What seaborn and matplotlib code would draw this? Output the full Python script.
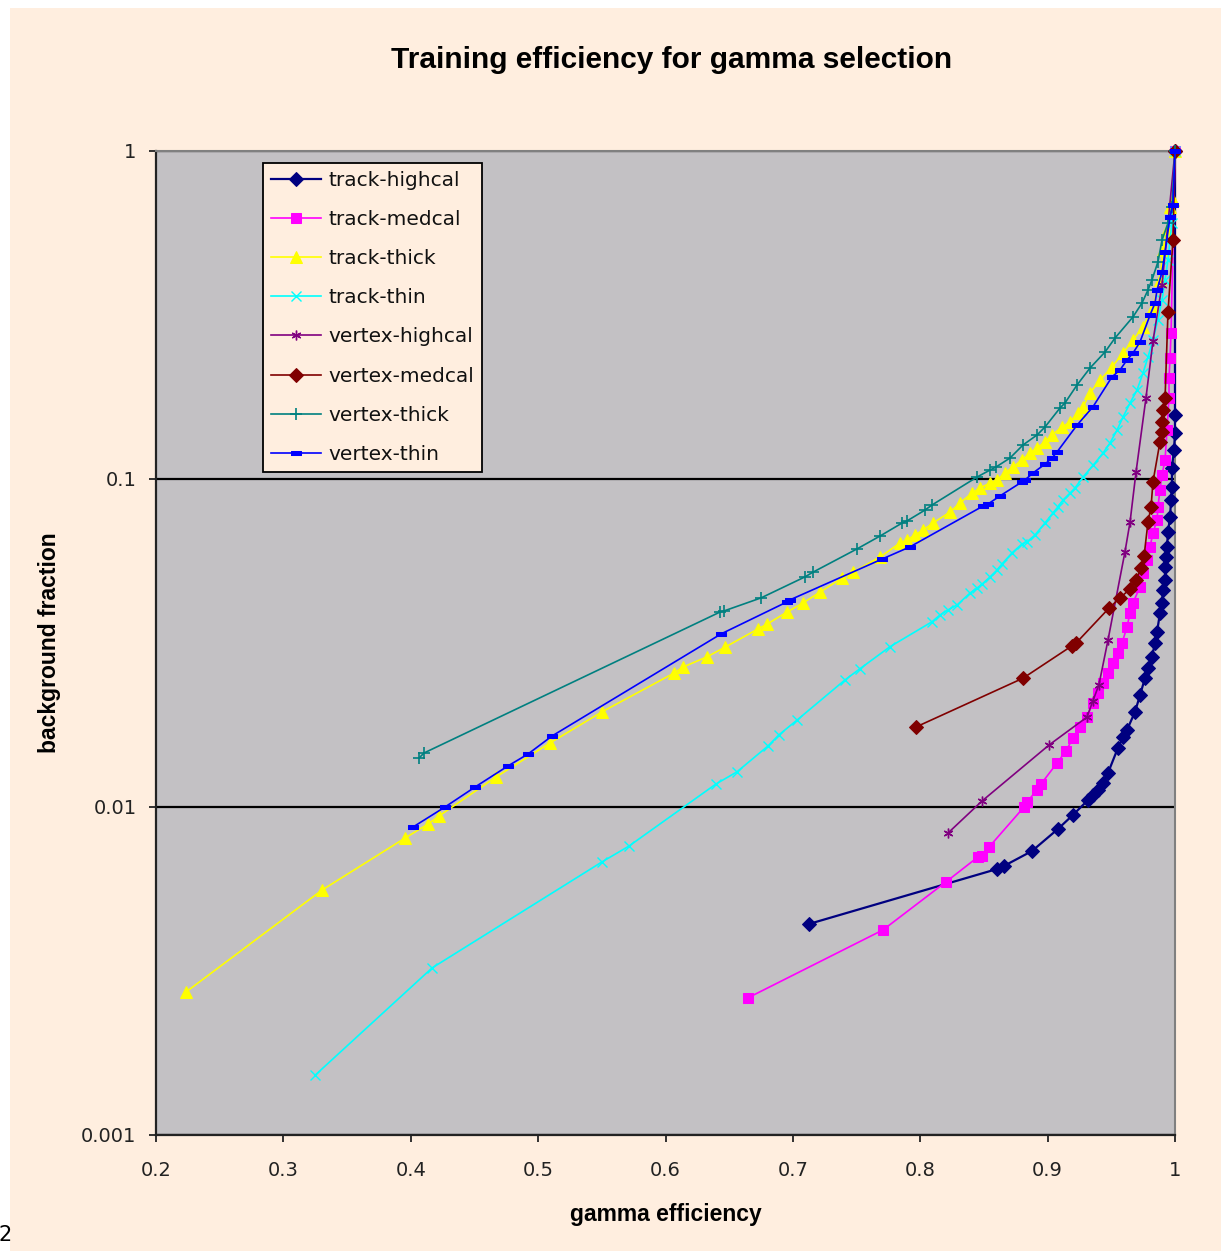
import matplotlib
matplotlib.use("Agg")
import matplotlib.pyplot as plt
from matplotlib.patches import Rectangle
from matplotlib.ticker import NullLocator, FixedLocator, FixedFormatter
import seaborn as sns

plt.rcParams['font.family'] = ['DejaVu Sans']

# ---------------- data ----------------
series_names = ["track-highcal", "track-medcal", "track-thick", "track-thin",
                "vertex-highcal", "vertex-medcal", "vertex-thick", "vertex-thin"]

track_highcal_x = [0.7127, 0.8603, 0.8657, 0.8877, 0.9081, 0.9199, 0.9317, 0.9356, 0.9395, 0.9435,
                   0.9474, 0.9552, 0.9592, 0.9623, 0.9686, 0.9725, 0.9764, 0.9788, 0.9819, 0.9843,
                   0.9859, 0.9882, 0.9898, 0.9906, 0.9922, 0.9922, 0.9929, 0.9937, 0.9945, 0.9961,
                   0.9969, 0.9976, 0.9976, 0.9992, 1.0, 1.0, 1.0]
track_highcal_y = [0.00440, 0.00647, 0.00661, 0.00734, 0.00857, 0.00946, 0.0105, 0.0109, 0.01127, 0.01184,
                   0.0127, 0.01514, 0.01634, 0.01717, 0.0195, 0.0219, 0.0247, 0.0265, 0.0287, 0.0316,
                   0.0342, 0.0390, 0.0419, 0.0459, 0.0492, 0.0539, 0.0578, 0.0621, 0.0689, 0.0766,
                   0.0863, 0.0946, 0.108, 0.1226, 0.138, 0.157, 1.0]

track_medcal_x = [0.6648, 0.7708, 0.8202, 0.8453, 0.8485, 0.8540, 0.8815, 0.8838, 0.8917, 0.8948,
                  0.9074, 0.9144, 0.9199, 0.9254, 0.9309, 0.9356, 0.9395, 0.9435, 0.9474, 0.9513,
                  0.9552, 0.9584, 0.9623, 0.9647, 0.9670, 0.9725, 0.9749, 0.9780, 0.9804, 0.9827,
                  0.9859, 0.9866, 0.9882, 0.9898, 0.9922, 0.9937, 0.9953, 0.9953, 0.9961, 0.9969, 1.0]
track_medcal_y = [0.00262, 0.00422, 0.00591, 0.00704, 0.00709, 0.00755, 0.0100, 0.01036, 0.01127, 0.01175,
                  0.01362, 0.01482, 0.01623, 0.01754, 0.0188, 0.0208, 0.0223, 0.0239, 0.0256, 0.0275,
                  0.0295, 0.0316, 0.0354, 0.0390, 0.0419, 0.0469, 0.0517, 0.0566, 0.0621, 0.0685,
                  0.0750, 0.0822, 0.0925, 0.1028, 0.1143, 0.141, 0.1766, 0.203, 0.234, 0.279, 1.0]

track_thick_x = [0.2236, 0.3303, 0.3955, 0.4135, 0.4222, 0.4669, 0.5093, 0.5501, 0.6067, 0.6137,
                 0.6326, 0.6467, 0.6726, 0.6797, 0.6954, 0.7080, 0.7213, 0.7386, 0.7472, 0.7684,
                 0.7841, 0.7896, 0.7959, 0.8022, 0.8100, 0.8234, 0.8312, 0.8406, 0.8469, 0.8548,
                 0.8603, 0.8665, 0.8728, 0.8799, 0.8862, 0.8917, 0.8979, 0.9034, 0.9113, 0.9176,
                 0.9238, 0.9278, 0.9333, 0.9411, 0.9505, 0.9592, 0.9670, 0.9749, 0.9827, 0.9882,
                 0.9906, 0.9937, 0.9961, 0.9984, 1.0]
track_thick_y = [0.00273, 0.00558, 0.00804, 0.00887, 0.00939, 0.01234, 0.01567, 0.0195, 0.0256, 0.0267,
                 0.0287, 0.0307, 0.0349, 0.0361, 0.0393, 0.0419, 0.0452, 0.0499, 0.0520, 0.0578,
                 0.0638, 0.0652, 0.0675, 0.0699, 0.0734, 0.0793, 0.0845, 0.0906, 0.0939, 0.0972,
                 0.0993, 0.1043, 0.1088, 0.1143, 0.120, 0.1244, 0.1297, 0.1362, 0.144, 0.149,
                 0.159, 0.166, 0.183, 0.200, 0.2196, 0.242, 0.2653, 0.2906, 0.3345, 0.4044,
                 0.4992, 0.574, 0.675, 0.709, 1.0]

track_thin_x = [0.3248, 0.4167, 0.5501, 0.5713, 0.6396, 0.6561, 0.6805, 0.6891, 0.7032, 0.7409,
                0.7527, 0.7762, 0.8092, 0.8155, 0.8218, 0.8289, 0.8391, 0.8446, 0.8485, 0.8548,
                0.8603, 0.8642, 0.8720, 0.8799, 0.8838, 0.8901, 0.8979, 0.9042, 0.9081, 0.9121,
                0.9176, 0.9215, 0.9278, 0.9356, 0.9435, 0.9490, 0.9545, 0.9592, 0.9647, 0.9702,
                0.9749, 0.9788, 0.9827, 0.9866, 0.9898, 0.9922, 0.9945, 0.9961, 0.9976, 1.0]
track_thin_y = [0.00152, 0.00323, 0.00680, 0.00760, 0.01175, 0.0128, 0.01535, 0.0166, 0.0184, 0.0244,
                0.0264, 0.0308, 0.0367, 0.0385, 0.0399, 0.0413, 0.0449, 0.0465, 0.0478, 0.0503,
                0.0528, 0.0551, 0.0595, 0.0634, 0.0643, 0.0675, 0.0734, 0.0788, 0.0822, 0.0863,
                0.0906, 0.0939, 0.1014, 0.110, 0.120, 0.1288, 0.141, 0.1545, 0.1705, 0.1868,
                0.2105, 0.2355, 0.2653, 0.3054, 0.3514, 0.4044, 0.4653, 0.535, 0.603, 1.0]

vertex_highcal_x = [0.8218, 0.8485, 0.9011, 0.9309, 0.9356, 0.9403, 0.9474, 0.9607, 0.9647, 0.9694,
                    0.9772, 0.9827, 0.9898, 1.0]
vertex_highcal_y = [0.00833, 0.01043, 0.01545, 0.0188, 0.0211, 0.0236, 0.0323, 0.0599, 0.0739, 0.105,
                    0.1766, 0.2634, 0.3904, 1.0]

vertex_medcal_x = [0.7967, 0.8807, 0.9191, 0.9223, 0.9482, 0.9568, 0.9647, 0.9694, 0.9733, 0.9757,
                   0.9788, 0.9812, 0.9827, 0.9882, 0.9898, 0.9898, 0.9906, 0.9922, 0.9945, 0.9984, 1.0]
vertex_medcal_y = [0.01754, 0.0247, 0.0310, 0.0316, 0.0404, 0.0434, 0.0462, 0.0492, 0.0535, 0.0582,
                   0.0739, 0.0822, 0.098, 0.1297, 0.139, 0.149, 0.1623, 0.1766, 0.323, 0.535, 1.0]

vertex_thick_x = [0.4065, 0.4104, 0.6428, 0.6459, 0.6750, 0.7095, 0.7158, 0.7503, 0.7684, 0.7857,
                  0.7896, 0.8037, 0.8092, 0.8446, 0.8548, 0.8595, 0.8705, 0.8807, 0.8917, 0.8979,
                  0.9097, 0.9136, 0.9231, 0.9333, 0.9451, 0.9529, 0.9670, 0.9741, 0.9788, 0.9819,
                  0.9866, 0.9898, 0.9945, 0.9976, 1.0]
vertex_thick_y = [0.0141, 0.01461, 0.0393, 0.0396, 0.0434, 0.0503, 0.0520, 0.0612, 0.0670, 0.0734,
                  0.0745, 0.0804, 0.0833, 0.1014, 0.1065, 0.1088, 0.1159, 0.127, 0.1362, 0.144,
                  0.1646, 0.1705, 0.1935, 0.218, 0.244, 0.269, 0.312, 0.344, 0.377, 0.4044,
                  0.459, 0.535, 0.603, 0.675, 1.0]

vertex_thin_x = [0.4018, 0.4269, 0.4504, 0.4763, 0.4920, 0.5109, 0.6436, 0.6954, 0.6977, 0.7700,
                 0.7919, 0.8493, 0.8532, 0.8626, 0.8799, 0.8822, 0.8885, 0.8979, 0.9034, 0.9074,
                 0.9231, 0.9356, 0.9505, 0.9568, 0.9623, 0.9670, 0.9725, 0.9804, 0.9843, 0.9859,
                 0.9898, 0.9922, 0.9961, 0.9984, 1.0]
vertex_thin_y = [0.00869, 0.0100, 0.0115, 0.01334, 0.0145, 0.01646, 0.0337, 0.0422, 0.0428, 0.0570,
                 0.0621, 0.0827, 0.0839, 0.0888, 0.098, 0.0993, 0.1043, 0.111, 0.1159, 0.1209,
                 0.146, 0.166, 0.2047, 0.215, 0.2306, 0.242, 0.2616, 0.316, 0.344, 0.377,
                 0.428, 0.492, 0.629, 0.684, 1.0]

x_ticks = [0.2, 0.3, 0.4, 0.5, 0.6, 0.7, 0.8, 0.9, 1.0]
x_tick_labels = ["0.2", "0.3", "0.4", "0.5", "0.6", "0.7", "0.8", "0.9", "1"]
y_ticks = [0.001, 0.01, 0.1, 1.0]
y_tick_labels = ["0.001", "0.01", "0.1", "1"]

title_text = "Training efficiency for gamma selection"
x_label = "gamma efficiency"
y_label = "background fraction"

# ---------------- styling ----------------
CREAM = "#FFEEDF"
PLOT_BG = "#C3C1C4"
dash_marker = [(-1, -0.45), (1, -0.45), (1, 0.45), (-1, 0.45), (-1, -0.45)]

styles = {
    "track-highcal": dict(color="#000080", marker="D", markersize=7, lw=1.6),
    "track-medcal": dict(color="#FF00FF", marker="s", markersize=7.5, lw=1.2),
    "track-thick": dict(color="#FFFF00", marker="^", markersize=9, lw=1.2),
    "track-thin": dict(color="#00FFFF", marker="x", markersize=6.5, lw=1.2, markeredgewidth=1.0),
    "vertex-highcal": dict(color="#800080", marker=(6, 2, 0), markersize=7, lw=1.2, markeredgewidth=1.0),
    "vertex-medcal": dict(color="#800000", marker="D", markersize=7, lw=1.2),
    "vertex-thick": dict(color="#008080", marker="+", markersize=8, lw=1.2, markeredgewidth=1.2),
    "vertex-thin": dict(color="#0000FF", marker=dash_marker, markersize=6.5, lw=1.2),
}

series_data = {
    "track-highcal": (track_highcal_x, track_highcal_y),
    "track-medcal": (track_medcal_x, track_medcal_y),
    "track-thick": (track_thick_x, track_thick_y),
    "track-thin": (track_thin_x, track_thin_y),
    "vertex-highcal": (vertex_highcal_x, vertex_highcal_y),
    "vertex-medcal": (vertex_medcal_x, vertex_medcal_y),
    "vertex-thick": (vertex_thick_x, vertex_thick_y),
    "vertex-thin": (vertex_thin_x, vertex_thin_y),
}

W, H = 1221, 1251
fig = plt.figure(figsize=(W / 100, H / 100), dpi=100, facecolor="white")
fig.patches.append(Rectangle((10 / W, 0), 1 - 10 / W, 1 - 8 / H, transform=fig.transFigure,
                             facecolor=CREAM, edgecolor="none", zorder=-10))

L, R, T, B = 156, 1175, 151, 1135
ax = fig.add_axes([L / W, 1 - B / H, (R - L) / W, (B - T) / H])
ax.set_facecolor(PLOT_BG)

for name in series_names:
    xs, ys = series_data[name]
    st = dict(styles[name])
    color = st.pop("color")
    sns.lineplot(x=xs, y=ys, sort=False, estimator=None, ax=ax, color=color,
                 markeredgecolor=color, markerfacecolor=color, label=name,
                 clip_on=False, zorder=3, **st)

ax.set_yscale("log")
ax.set_xlim(0.2, 1.0)
ax.set_ylim(0.001, 1.0)
ax.xaxis.set_major_locator(FixedLocator(x_ticks))
ax.xaxis.set_major_formatter(FixedFormatter(x_tick_labels))
ax.yaxis.set_major_locator(FixedLocator(y_ticks))
ax.yaxis.set_major_formatter(FixedFormatter(y_tick_labels))
ax.yaxis.set_minor_locator(NullLocator())
ax.xaxis.set_minor_locator(NullLocator())

ax.set_axisbelow(True)
ax.grid(axis="y", which="major", color="black", lw=1.6)
ax.grid(axis="x", visible=False)

for side in ["left", "bottom"]:
    ax.spines[side].set_color("#222222")
    ax.spines[side].set_linewidth(1.6)
for side in ["top", "right"]:
    ax.spines[side].set_color("#808080")
    ax.spines[side].set_linewidth(1.5)

ax.tick_params(axis="both", direction="out", length=5, width=1.3, color="#222222",
               labelsize=14, labelcolor="#222222")
ax.tick_params(axis="y", pad=9)
ax.tick_params(axis="x", pad=14)

leg = ax.legend(loc="upper left", bbox_to_anchor=(0.105, 0.988), borderaxespad=0,
                fontsize=14.5, frameon=True, fancybox=False, facecolor=CREAM,
                edgecolor="black", framealpha=1, handlelength=2.5, handletextpad=0.35,
                labelspacing=1.0, borderpad=0.4)
leg.get_frame().set_linewidth(1.3)
for t in leg.get_texts():
    t.set_color("#111111")

fig.text(672 / W, 1 - 60 / H, title_text, ha="center", va="center",
         fontsize=21.5, fontweight="bold", color="black", family="Liberation Sans")
fig.text(666 / W, 1 - 1215 / H, x_label, ha="center", va="center",
         fontsize=16.5, fontweight="bold", color="black", family="Liberation Sans")
fig.text(50 / W, 1 - 643 / H, y_label, ha="center", va="center", rotation=90,
         fontsize=16.5, fontweight="bold", color="black", family="Liberation Sans")
fig.text(-1 / W, 1 - 1235 / H, "2", ha="left", va="center", fontsize=15, color="black")

fig.savefig("out.png", dpi=100, facecolor=fig.get_facecolor())
